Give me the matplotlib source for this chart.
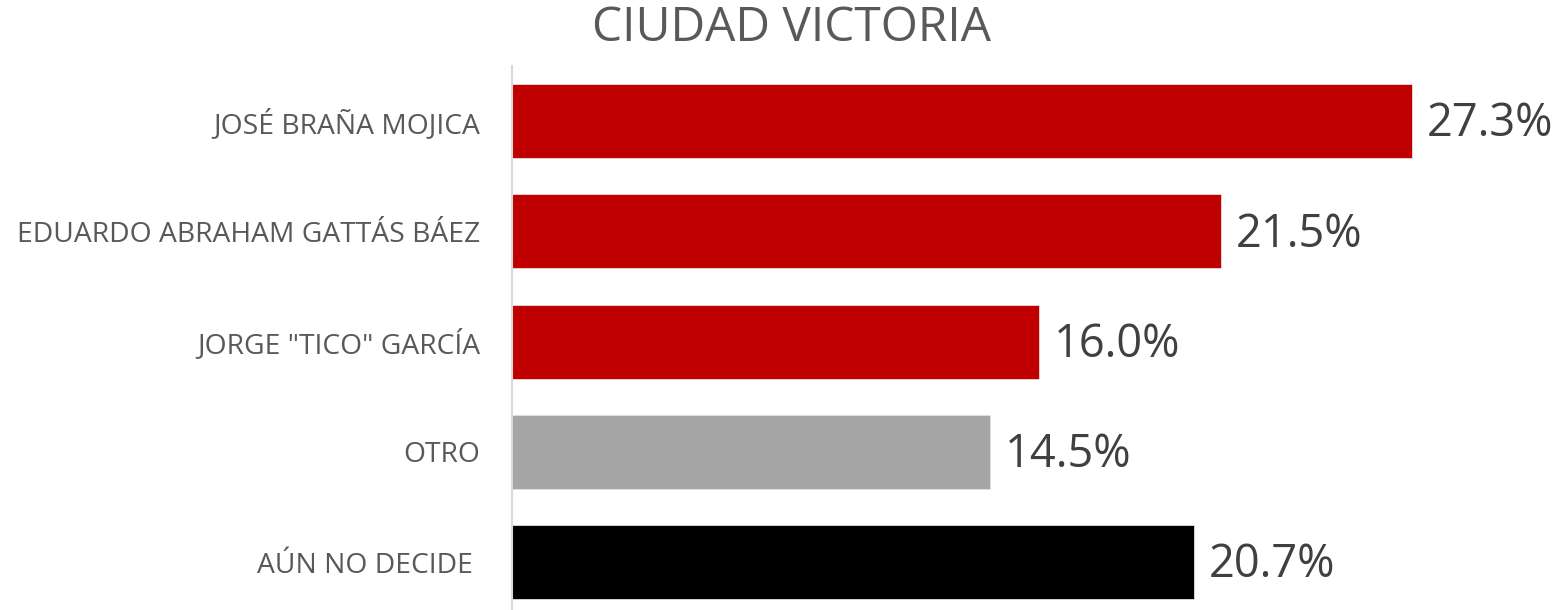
import matplotlib
matplotlib.use("Agg")
from matplotlib import pyplot as plt
import numpy as np

candidatos = ["JOSÉ BRAÑA MOJICA", "EDUARDO ABRAHAM GATTÁS BÁEZ",
              'JORGE "TICO" GARCÍA', "OTRO", "AÚN NO DECIDE "]
porcentajes = [27.3, 21.5, 16.0, 14.5, 20.7]
colores = ["#C00000", "#C00000", "#C00000", "#A6A6A6", "#000000"]
titulo = "CIUDAD VICTORIA"


def main():
    plt.rcParams['font.family'] = ['Open Sans', 'DejaVu Sans']
    fig = plt.figure(figsize=(15.57, 6.10), dpi=100)
    W, H = 1557, 610
    ax = fig.add_axes([512 / W, 0, 1 - 512 / W, (H - 66) / H])

    y = np.arange(len(candidatos))
    ax.barh(y, porcentajes, height=0.67, color=colores,
            edgecolor="#E0E0E0", linewidth=0.6)
    ax.set_ylim(4.435, -0.5)
    ax.set_xlim(0, 31.7)

    for yi, v in zip(y, porcentajes):
        ax.text(v + 0.45, yi + 0.03, f"{v:.1f}%", va="center", ha="left",
                fontsize=32.5, color="#404040")

    ax.set_yticks(y)
    ax.set_yticklabels(candidatos, fontsize=20.3, color="#595959")
    ax.tick_params(axis="y", length=0, pad=23)
    ax.set_xticks([])
    for s in ["top", "right", "bottom"]:
        ax.spines[s].set_visible(False)
    ax.spines["left"].set_color("#D9D9D9")
    ax.spines["left"].set_linewidth(1.5)

    fig.text(791 / W, 1 - 28 / H, titulo, ha="center", va="center",
             fontsize=34.5, color="#595959")

    fig.savefig("out.png", dpi=100)


if __name__ == '__main__':
    main()
